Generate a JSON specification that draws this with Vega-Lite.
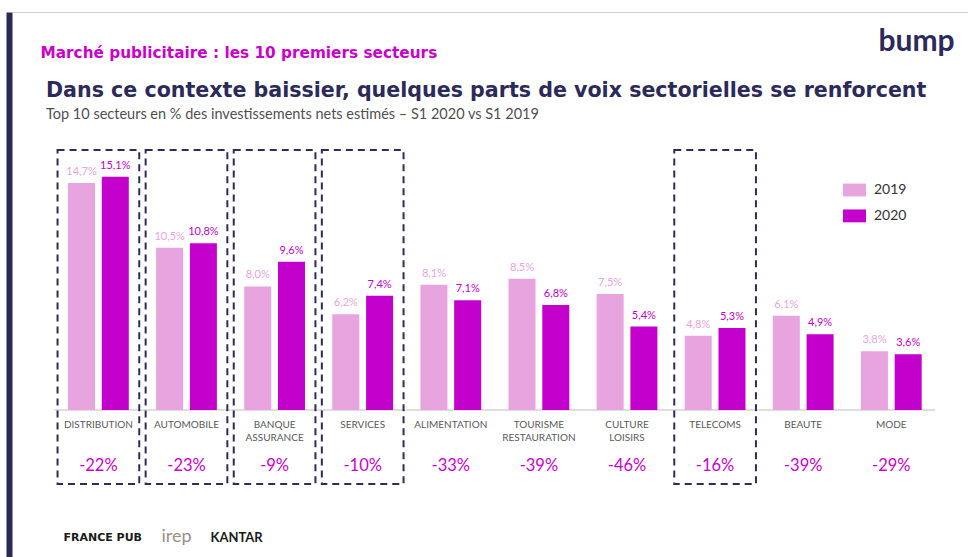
{
  "$schema": "https://vega.github.io/schema/vega-lite/v6.json",
  "width": 956,
  "height": 545,
  "autosize": "none",
  "padding": {"left": 12, "top": 12, "right": 0, "bottom": 0},
  "background": "white",
  "config": {"view": {"stroke": null}, "font": "Lato"},
  "title": {
    "text": "Dans ce contexte baissier, quelques parts de voix sectorielles se renforcent",
    "subtitle": "Top 10 secteurs en % des investissements nets estimés – S1 2020 vs S1 2019",
    "anchor": "start",
    "frame": "group",
    "dx": 34,
    "dy": 113,
    "font": "DejaVu Sans",
    "fontSize": 20.6,
    "fontWeight": "bold",
    "color": "#2b2a5a",
    "subtitleFont": "Lato",
    "subtitleFontSize": 14.5,
    "subtitleColor": "#505050",
    "subtitlePadding": 5.5
  },
  "datasets": {
    "bars": [
      {"cat": "DISTRIBUTION", "year": "2019", "value": 14.7, "label": "14,7%"},
      {"cat": "DISTRIBUTION", "year": "2020", "value": 15.1, "label": "15,1%"},
      {"cat": "AUTOMOBILE", "year": "2019", "value": 10.5, "label": "10,5%"},
      {"cat": "AUTOMOBILE", "year": "2020", "value": 10.8, "label": "10,8%"},
      {"cat": "BANQUE ASSURANCE", "year": "2019", "value": 8.0, "label": "8,0%"},
      {"cat": "BANQUE ASSURANCE", "year": "2020", "value": 9.6, "label": "9,6%"},
      {"cat": "SERVICES", "year": "2019", "value": 6.2, "label": "6,2%"},
      {"cat": "SERVICES", "year": "2020", "value": 7.4, "label": "7,4%"},
      {"cat": "ALIMENTATION", "year": "2019", "value": 8.1, "label": "8,1%"},
      {"cat": "ALIMENTATION", "year": "2020", "value": 7.1, "label": "7,1%"},
      {"cat": "TOURISME RESTAURATION", "year": "2019", "value": 8.5, "label": "8,5%"},
      {"cat": "TOURISME RESTAURATION", "year": "2020", "value": 6.8, "label": "6,8%"},
      {"cat": "CULTURE LOISIRS", "year": "2019", "value": 7.5, "label": "7,5%"},
      {"cat": "CULTURE LOISIRS", "year": "2020", "value": 5.4, "label": "5,4%"},
      {"cat": "TELECOMS", "year": "2019", "value": 4.8, "label": "4,8%"},
      {"cat": "TELECOMS", "year": "2020", "value": 5.3, "label": "5,3%"},
      {"cat": "BEAUTE", "year": "2019", "value": 6.1, "label": "6,1%"},
      {"cat": "BEAUTE", "year": "2020", "value": 4.9, "label": "4,9%"},
      {"cat": "MODE", "year": "2019", "value": 3.8, "label": "3,8%"},
      {"cat": "MODE", "year": "2020", "value": 3.6, "label": "3,6%"}
    ],
    "cats": [
      {"cat": "DISTRIBUTION", "name": "DISTRIBUTION", "change": "-22%", "boxed": true},
      {"cat": "AUTOMOBILE", "name": "AUTOMOBILE", "change": "-23%", "boxed": true},
      {"cat": "BANQUE ASSURANCE", "name": "BANQUE\nASSURANCE", "change": "-9%", "boxed": true},
      {"cat": "SERVICES", "name": "SERVICES", "change": "-10%", "boxed": true},
      {"cat": "ALIMENTATION", "name": "ALIMENTATION", "change": "-33%", "boxed": false},
      {"cat": "TOURISME RESTAURATION", "name": "TOURISME\nRESTAURATION", "change": "-39%", "boxed": false},
      {"cat": "CULTURE LOISIRS", "name": "CULTURE\nLOISIRS", "change": "-46%", "boxed": false},
      {"cat": "TELECOMS", "name": "TELECOMS", "change": "-16%", "boxed": true},
      {"cat": "BEAUTE", "name": "BEAUTE", "change": "-39%", "boxed": false},
      {"cat": "MODE", "name": "MODE", "change": "-29%", "boxed": false}
    ]
  },
  "resolve": {"axis": {"x": "independent", "y": "independent"}},
  "layer": [
    {
      "data": {"name": "cats"},
      "mark": {"type": "bar", "filled": false, "stroke": "#d4d4d4", "strokeWidth": 1, "width": {"band": 1.449}},
      "encoding": {
        "x": {"field": "cat", "type": "nominal", "sort": null, "axis": null,
              "scale": {"domain": ["DISTRIBUTION","AUTOMOBILE","BANQUE ASSURANCE","SERVICES","ALIMENTATION","TOURISME RESTAURATION","CULTURE LOISIRS","TELECOMS","BEAUTE","MODE"], "paddingInner": 0.31, "paddingOuter": 0.5806, "align": 0.5474, "round": false}},
        "y": {"datum": 0, "type": "quantitative", "axis": null, "scale": {"domain": [-9.515, 25.76], "nice": false, "zero": false}},
        "y2": {"datum": 0}
      }
    },
    {
      "data": {"name": "cats"},
      "transform": [{"filter": "datum.boxed"}],
      "mark": {"type": "bar", "filled": false, "stroke": "#2e2c5c", "strokeWidth": 2, "strokeDash": [7, 5], "width": {"band": 1.344}},
      "encoding": {
        "x": {"field": "cat", "type": "nominal", "sort": null,
              "axis": {"orient": "top", "domain": true, "domainColor": "#cfcfcf", "domainWidth": 1, "labels": false, "ticks": false, "grid": false,
                       "title": "Marché publicitaire : les 10 premiers secteurs", "titleX": 28, "titleY": 40, "titleAlign": "left", "titleBaseline": "middle", "titleAnchor": null,
                       "titleColor": "#cc00cc", "titleFont": "DejaVu Sans", "titleFontSize": 15.3, "titleFontWeight": "bold"}},
        "y": {"datum": 16.83, "type": "quantitative",
              "axis": {"orient": "right", "domain": false, "labels": false, "ticks": false, "grid": false,
                       "title": "bump", "titleAngle": 0, "titleX": -90, "titleY": 38, "titleAlign": "left", "titleBaseline": "alphabetic", "titleAnchor": null,
                       "titleFont": "Lato", "titleFontSize": 30, "titleFontWeight": "bold", "titleColor": "#2b2a5a"}},
        "y2": {"datum": -4.79}
      }
    },
    {
      "data": {"name": "bars"},
      "mark": {"type": "bar"},
      "encoding": {
        "x": {"field": "cat", "type": "nominal", "sort": null,
              "axis": {"orient": "bottom", "domain": false, "ticks": false, "grid": false,
                       "labelExpr": "datum.value == 'BANQUE ASSURANCE' ? 'KANTAR' : ''", "labelOffset": -38, "labelPadding": -20, "labelBaseline": "middle", "labelAngle": 0,
                       "labelFont": "Lato", "labelFontSize": 13, "labelFontWeight": "bold", "labelColor": "#1a1a1a", "labelOverlap": false, "labelBound": false, "labelFlush": false,
                       "title": "FRANCE PUB", "titleX": 51, "titleY": -20, "titleAlign": "left", "titleBaseline": "middle", "titleAnchor": null,
                       "titleFont": "DejaVu Sans", "titleFontSize": 11, "titleFontWeight": "bold", "titleColor": "#1a1a1a"}},
        "xOffset": {"field": "year", "type": "nominal", "scale": {"paddingInner": 0.2, "paddingOuter": 0}},
        "y": {"field": "value", "type": "quantitative",
              "axis": {"orient": "left", "offset": 3, "domain": true, "domainColor": "#2a2856", "domainWidth": 6, "labels": false, "ticks": false, "grid": false,
                       "title": "irep", "titleAngle": 0, "titleX": 152, "titleY": 529, "titleAlign": "left", "titleBaseline": "alphabetic", "titleAnchor": null,
                       "titleFont": "Lato", "titleFontSize": 18, "titleFontWeight": "normal", "titleColor": "#9a8f87"}},
        "color": {"field": "year", "type": "nominal",
                  "scale": {"domain": ["2019", "2020"], "range": ["#e8a4de", "#c400cc"]},
                  "legend": {"title": null, "orient": "none", "legendX": 831, "legendY": 166.5, "padding": 0,
                             "symbolType": "M-1,-0.56H1V0.56H-1Z", "symbolSize": 529, "symbolStrokeWidth": 0,
                             "labelFont": "Lato", "labelFontSize": 14, "labelColor": "#333333", "labelOffset": 8, "rowPadding": 6.9}}
      }
    },
    {
      "data": {"name": "bars"},
      "mark": {"type": "text", "baseline": "middle", "dy": -11, "font": "Lato", "fontSize": 11},
      "encoding": {
        "x": {"field": "cat", "type": "nominal", "sort": null, "axis": null},
        "xOffset": {"field": "year", "type": "nominal"},
        "y": {"field": "value", "type": "quantitative", "axis": null},
        "text": {"field": "label"},
        "color": {"field": "year", "type": "nominal", "legend": null}
      }
    },
    {
      "data": {"name": "cats"},
      "mark": {"type": "text", "baseline": "top", "dy": 10, "font": "Lato", "fontSize": 10, "color": "#595959", "lineBreak": "\n", "lineHeight": 13},
      "encoding": {
        "x": {"field": "cat", "type": "nominal", "sort": null, "axis": null},
        "y": {"datum": 0, "type": "quantitative", "axis": null},
        "text": {"field": "name"}
      }
    },
    {
      "data": {"name": "cats"},
      "mark": {"type": "text", "baseline": "middle", "dy": 56, "font": "Lato", "fontSize": 16.5, "color": "#cc00cc"},
      "encoding": {
        "x": {"field": "cat", "type": "nominal", "sort": null, "axis": null},
        "y": {"datum": 0, "type": "quantitative", "axis": null},
        "text": {"field": "change"}
      }
    }
  ]
}
